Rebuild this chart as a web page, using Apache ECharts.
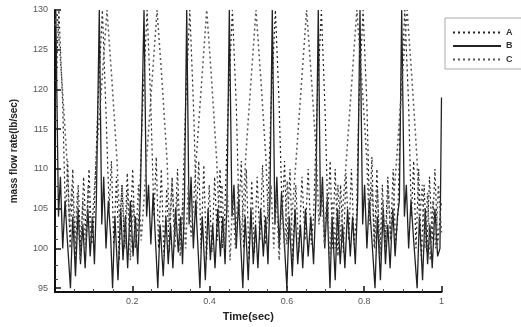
<!DOCTYPE html>
<html>
<head>
<meta charset="utf-8">
<script src="https://cdn.jsdelivr.net/npm/echarts@6/dist/echarts.min.js"></script>
<style>
html,body{margin:0;padding:0;background:#fff;}
#chart{width:521px;height:327px;}
</style>
</head>
<body>
<div id="chart"></div>
<script>
var seriesNames = ['A', 'B', 'C'];
var xTicks = [0.2, 0.4, 0.6, 0.8, 1];
var yTicks = [95, 100, 105, 110, 115, 120, 125, 130];

var dataA = [
[0,117],[0.010,130],[0.020,118],[0.027,104],[0.033,111],[0.039,100],[0.046,110],[0.053,98.5],[0.060,108],[0.067,99.5],[0.074,109],[0.081,101],[0.088,110],[0.095,100.5],[0.101,104],[0.111,118],
[0.1226,130],[0.132,117],[0.140,105],[0.146,111],[0.152,100.5],[0.159,109],[0.166,98.5],[0.173,108],[0.180,100],[0.187,109.5],[0.194,101],[0.201,110],[0.208,100],[0.217,104],[0.227,118],
[0.2383,130],[0.248,118],[0.256,104],[0.262,111.5],[0.268,100],[0.275,110],[0.282,99],[0.289,107.5],[0.296,99.5],[0.303,109],[0.310,101.5],[0.317,110],[0.324,100.5],[0.329,104],[0.338,118],
[0.3488,130],[0.359,117],[0.366,104],[0.372,111],[0.378,100],[0.385,110.5],[0.392,98.5],[0.399,108],[0.406,99.5],[0.413,109],[0.420,101],[0.427,110],[0.433,100],[0.439,104],[0.448,118],
[0.459,130],[0.469,118],[0.476,104.5],[0.482,111],[0.488,100],[0.495,110],[0.502,98.5],[0.509,108.5],[0.516,99.5],[0.523,109],[0.530,101],[0.537,110.5],[0.544,100.5],[0.550,104],[0.559,118],
[0.5702,130],[0.580,118],[0.588,104],[0.594,111],[0.600,100.5],[0.608,110],[0.615,98.5],[0.623,108],[0.631,99.5],[0.639,109],[0.647,101],[0.655,110],[0.663,100.5],[0.669,104],[0.678,118],
[0.6892,130],[0.699,117],[0.706,104],[0.712,111],[0.718,100],[0.725,110],[0.732,99],[0.739,108],[0.746,99.5],[0.753,109.5],[0.760,101],[0.767,110],[0.774,100.5],[0.780,104],[0.786,118],
[0.7971,130],[0.807,118],[0.814,104],[0.820,111.5],[0.826,100],[0.833,110],[0.840,98.5],[0.847,108],[0.854,100],[0.861,109],[0.868,101],[0.875,110],[0.881,100.5],[0.887,104],[0.894,118],
[0.905,130],[0.915,118],[0.922,104],[0.928,111],[0.934,100],[0.941,110],[0.948,98.5],[0.955,108],[0.962,99.5],[0.969,109],[0.976,101],[0.983,110],[0.990,100.5],[1.0,106]
];

var dataB = [
[0,128],[0.002,130],[0.009,104],[0.014,109],[0.020,100],[0.026,106],[0.032,101],[0.040,95],[0.046,104],[0.053,96.5],[0.060,105],[0.066,98],[0.072,103],[0.078,97.5],[0.085,105],[0.091,99],[0.097,104],[0.102,98],[0.107,106],
[0.1146,130],[0.121,103],[0.126,109],[0.132,100],[0.138,106],[0.144,101.5],[0.149,95],[0.155,104],[0.163,96],[0.170,105],[0.176,98.5],[0.182,104],[0.188,97.5],[0.195,106],[0.202,99],[0.208,104],[0.214,98],[0.221,107],
[0.2303,130],[0.237,104],[0.242,108],[0.248,100.5],[0.254,107],[0.260,101],[0.266,95],[0.272,103],[0.280,96.5],[0.287,104],[0.293,98],[0.299,103],[0.305,97.5],[0.312,105],[0.319,99.5],[0.325,104],[0.330,98],[0.335,106],
[0.3408,130],[0.347,103],[0.352,109],[0.358,100],[0.364,106],[0.369,101],[0.375,95],[0.381,104],[0.389,96],[0.396,105],[0.402,98.5],[0.408,103],[0.414,97.5],[0.421,105],[0.428,99],[0.434,104],[0.440,98],[0.445,106],
[0.451,130],[0.458,104],[0.463,108],[0.469,100],[0.475,106],[0.480,101],[0.486,95],[0.492,104],[0.500,96],[0.507,105],[0.513,98],[0.519,103],[0.525,97.5],[0.532,105],[0.539,99],[0.545,104],[0.551,98],[0.556,106],
[0.5622,130],[0.569,103],[0.574,109],[0.580,100],[0.586,107],[0.593,101],[0.600,95],[0.606,104],[0.614,96.5],[0.621,105],[0.628,98],[0.635,103],[0.641,97.5],[0.648,105],[0.655,99],[0.662,104],[0.669,98],[0.675,106],
[0.6812,130],[0.687,104],[0.692,109],[0.698,100],[0.704,106],[0.7115,95],[0.717,104],[0.725,96],[0.731,105],[0.738,98],[0.744,103],[0.750,97.5],[0.757,105],[0.764,99],[0.770,104],[0.777,98],[0.783,106],
[0.7891,130],[0.796,103],[0.801,108],[0.807,100],[0.813,106],[0.820,101],[0.828,95],[0.834,104],[0.842,96],[0.849,105],[0.855,98],[0.861,103],[0.867,97.5],[0.874,105],[0.880,99],[0.886,104],[0.891,106],
[0.897,130],[0.904,104],[0.909,108],[0.915,100],[0.921,106],[0.928,101],[0.937,95],[0.943,104],[0.951,96],[0.958,105],[0.964,98],[0.970,103],[0.976,97.5],[0.983,105],[0.990,99],[0.996,100],[1.0,119]
];

var dataC = [
[0,128],[0.005,130],[0.018,121],[0.031,111],[0.037,103],[0.044,108],[0.051,100],[0.058,107],[0.065,98.5],[0.072,106],[0.079,100],[0.086,108],[0.093,101],[0.100,106],[0.108,112],[0.1215,121],
[0.1345,130],[0.1475,121],[0.1605,111],[0.167,103.5],[0.174,108],[0.181,100],[0.188,107.5],[0.195,98.5],[0.202,106],[0.209,100.5],[0.216,108],[0.223,101],[0.230,106],[0.238,112],[0.251,121],
[0.264,130],[0.277,121],[0.290,111],[0.296,103],[0.303,108.5],[0.310,100],[0.317,107],[0.324,99],[0.331,106],[0.338,100],[0.345,108],[0.352,101.5],[0.359,106],[0.3665,112],[0.3795,121],
[0.3925,130],[0.4055,121],[0.4185,111],[0.425,103],[0.432,108],[0.439,100],[0.446,107],[0.453,98.5],[0.460,106.5],[0.467,100],[0.474,108],[0.481,101],[0.488,106],[0.494,112],[0.507,121],
[0.520,130],[0.533,121],[0.546,111],[0.552,103.5],[0.559,108],[0.566,100],[0.573,107],[0.580,98.5],[0.587,106],[0.594,100],[0.601,108.5],[0.608,101],[0.616,106],[0.625,112],[0.638,121],
[0.651,130],[0.664,121],[0.677,111],[0.683,103],[0.690,108],[0.697,100.5],[0.704,107],[0.711,98.5],[0.718,106],[0.725,100],[0.732,108],[0.739,101],[0.746,106],[0.755,112],[0.768,121],
[0.781,130],[0.794,121],[0.807,111],[0.813,103],[0.820,108],[0.827,100],[0.834,107.5],[0.841,99],[0.848,106],[0.855,100],[0.862,108],[0.869,101],[0.876,106],[0.885,112],[0.898,121],
[0.911,130],[0.924,121],[0.937,111],[0.943,103],[0.950,108],[0.957,100],[0.964,107],[0.971,98.5],[0.978,106],[0.985,100],[0.992,108],[1.0,102]
];

var chart = echarts.init(document.getElementById('chart'), null, {renderer: 'canvas'});
chart.setOption({
  animation: false,
  backgroundColor: '#fff',
  grid: {left: 55, right: 79.5, top: 10, bottom: 33, containLabel: false},
  legend: {
    orient: 'vertical',
    left: 445, top: 18,
    padding: [10, 9, 5, 7],
    itemWidth: 48, itemHeight: 10, itemGap: 4.5,
    borderColor: '#aaa', borderWidth: 1,
    itemStyle: {opacity: 0},
    textStyle: {fontFamily: 'Liberation Sans, Arial, sans-serif', fontWeight: 'bold', fontSize: 9, color: '#333', padding: [0,0,0,0]},
    data: seriesNames
  },
  xAxis: {
    type: 'value', min: 0, max: 1, interval: 0.2,
    name: 'Time(sec)', nameLocation: 'middle', nameGap: 18,
    nameTextStyle: {fontFamily: 'Liberation Sans, Arial, sans-serif', fontWeight: 'bold', fontSize: 11, color: '#222'},
    axisLine: {lineStyle: {color: '#111', width: 2}},
    axisTick: {inside: true, length: 6, lineStyle: {color: '#111', width: 1.5}},
    minorTick: {show: true, splitNumber: 4, length: 3, lineStyle: {color: '#444', width: 1}},
    axisLabel: {
      customValues: xTicks,
      formatter: function (v) { return String(v); },
      color: '#555', fontSize: 9, margin: 5, fontFamily: 'Liberation Sans, Arial, sans-serif'
    },
    splitLine: {show: false}
  },
  yAxis: {
    type: 'value', min: 94.5, max: 130, interval: 5,
    name: 'mass flow rate(lb/sec)', nameLocation: 'middle', nameGap: 36,
    nameTextStyle: {fontFamily: 'Liberation Sans, Arial, sans-serif', fontWeight: 'bold', fontSize: 10, color: '#222'},
    axisLine: {show: true, lineStyle: {color: '#111', width: 2}},
    axisTick: {inside: true, length: 6, customValues: yTicks, lineStyle: {color: '#111', width: 1.5}},
    minorTick: {show: true, splitNumber: 3, length: 3, lineStyle: {color: '#444', width: 1}},
    axisLabel: {customValues: yTicks, color: '#555', fontSize: 9, margin: 7, fontFamily: 'Liberation Sans, Arial, sans-serif'},
    splitLine: {show: false}
  },
  series: [
    {name: 'A', type: 'line', data: dataA, symbol: 'none', color: '#222',
     lineStyle: {color: '#222', width: 1.2, type: [2, 3]}},
    {name: 'B', type: 'line', data: dataB, symbol: 'none', color: '#222',
     lineStyle: {color: '#222', width: 1.3, type: 'solid'}},
    {name: 'C', type: 'line', data: dataC, symbol: 'none', color: '#555',
     lineStyle: {color: '#555', width: 1.5, type: [2, 3]}}
  ]
});
</script>
</body>
</html>
